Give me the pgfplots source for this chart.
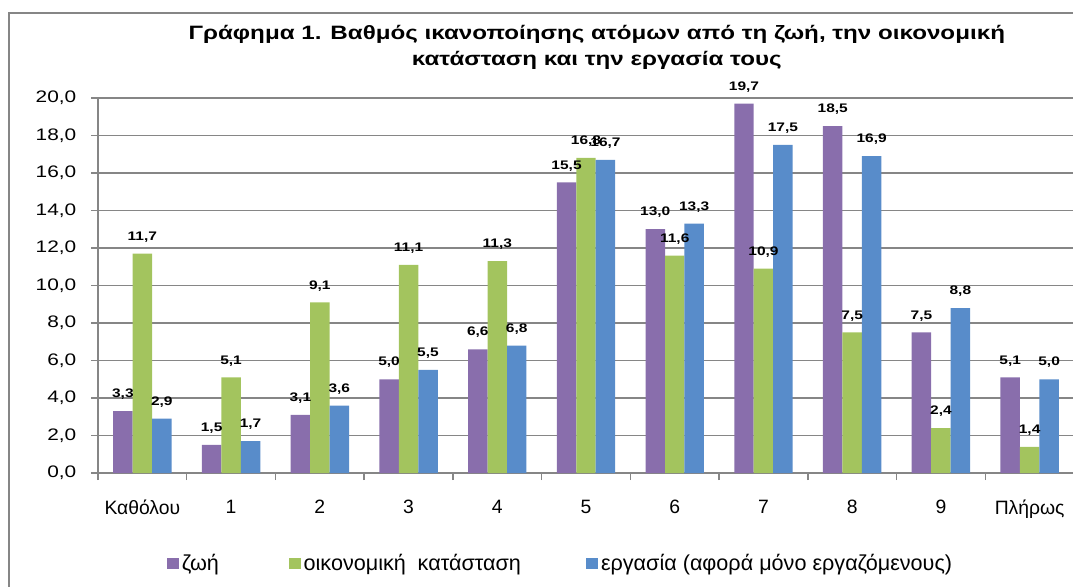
\documentclass[border=0pt]{standalone}
\usepackage{pgfplots}
\pgfplotsset{compat=1.18}
\usepackage{fontspec}
\setmainfont{Liberation Sans}[FakeStretch=1.25]
\newfontfamily\plainfont{Liberation Sans}
\definecolor{cz}{RGB}{137,110,172}
\definecolor{co}{RGB}{163,196,94}
\definecolor{ce}{RGB}{88,140,202}
\definecolor{gl}{RGB}{134,134,134}
\pgfplotsset{/pgf/number format/.cd, fixed, fixed zerofill, precision=1, use comma}
\begin{document}
\begin{tikzpicture}
\useasboundingbox (0,0) rectangle (804.75pt,439.5pt);
\draw[gl, line width=1.3pt] (6.75pt,-20pt) rectangle (830pt,429.75pt);
\begin{axis}[
  at={(73.5pt,84.75pt)}, anchor=south west,
  scale only axis, width=732pt, height=281.25pt,
  xmin=-0.5, xmax=10.5, ymin=0, ymax=20,
  ybar=0pt, bar width=14.6pt,
  axis lines*=left,
  axis line style={gl, line width=1.1pt},
  tick style={gl, line width=1.1pt},
  tick align=outside, major tick length=5.25pt,
  ytick={0,2,...,20},
  ymajorgrids, grid style={gl, line width=1.1pt},
  /pgf/number format/assume math mode=true,
  yticklabel style={font=\fontsize{12.5}{14}\selectfont, xshift=-7.5pt},
  xtick={-0.5,0.5,...,10.5}, xticklabels={,,,,,,,,,,,},
  extra x ticks={0,1,2,3,4,5,6,7,8,9,10},
  extra x tick labels={Καθόλου,1,2,3,4,5,6,7,8,9,Πλήρως},
  extra x tick style={major tick length=0pt, grid=none},
  xticklabel style={font=\plainfont\fontsize{14.5}{16}\selectfont, yshift=-17pt},
  title={Γράφημα 1. Βαθμός ικανοποίησης ατόμων από τη ζωή, την οικονομική\\κατάσταση και την εργασία τους},
  title style={at={(0.511,1.114)}, anchor=center, align=center, font=\bfseries\fontsize{14.5}{19}\selectfont},
  nodes near coords,
  nodes near coords style={font=\bfseries\fontsize{9.3}{11}\selectfont, yshift=5pt, text=black},
  legend style={at={(0.0666,-0.2413)}, anchor=west, draw=none, fill=none, legend columns=3,
    font=\plainfont\fontsize{16.2}{18}\selectfont, nodes={inner xsep=2pt},
    /tikz/every even column/.style={column sep=0pt},
    /tikz/every odd column/.style={column sep=0pt}},
  legend cell align=left,
  legend image code/.code={\fill[#1] (0pt,-4.1pt) rectangle (9pt,4.1pt);},
  clip=false,
]
\addplot[fill=cz, draw=none] coordinates {(0,3.3)(1,1.5)(2,3.1)(3,5.0)(4,6.6)(5,15.5)(6,13.0)(7,19.7)(8,18.5)(9,7.5)(10,5.1)};
\addplot[fill=co, draw=none] coordinates {(0,11.7)(1,5.1)(2,9.1)(3,11.1)(4,11.3)(5,16.8)(6,11.6)(7,10.9)(8,7.5)(9,2.4)(10,1.4)};
\addplot[fill=ce, draw=none] coordinates {(0,2.9)(1,1.7)(2,3.6)(3,5.5)(4,6.8)(5,16.7)(6,13.3)(7,17.5)(8,16.9)(9,8.8)(10,5.0)};
\legend{\makebox[78.3pt][l]{ζωή}, \makebox[210pt][l]{οικονομική\hspace{0.55em}κατάσταση}, εργασία (αφορά μόνο εργαζόμενους)}
\end{axis}
\end{tikzpicture}
\end{document}
